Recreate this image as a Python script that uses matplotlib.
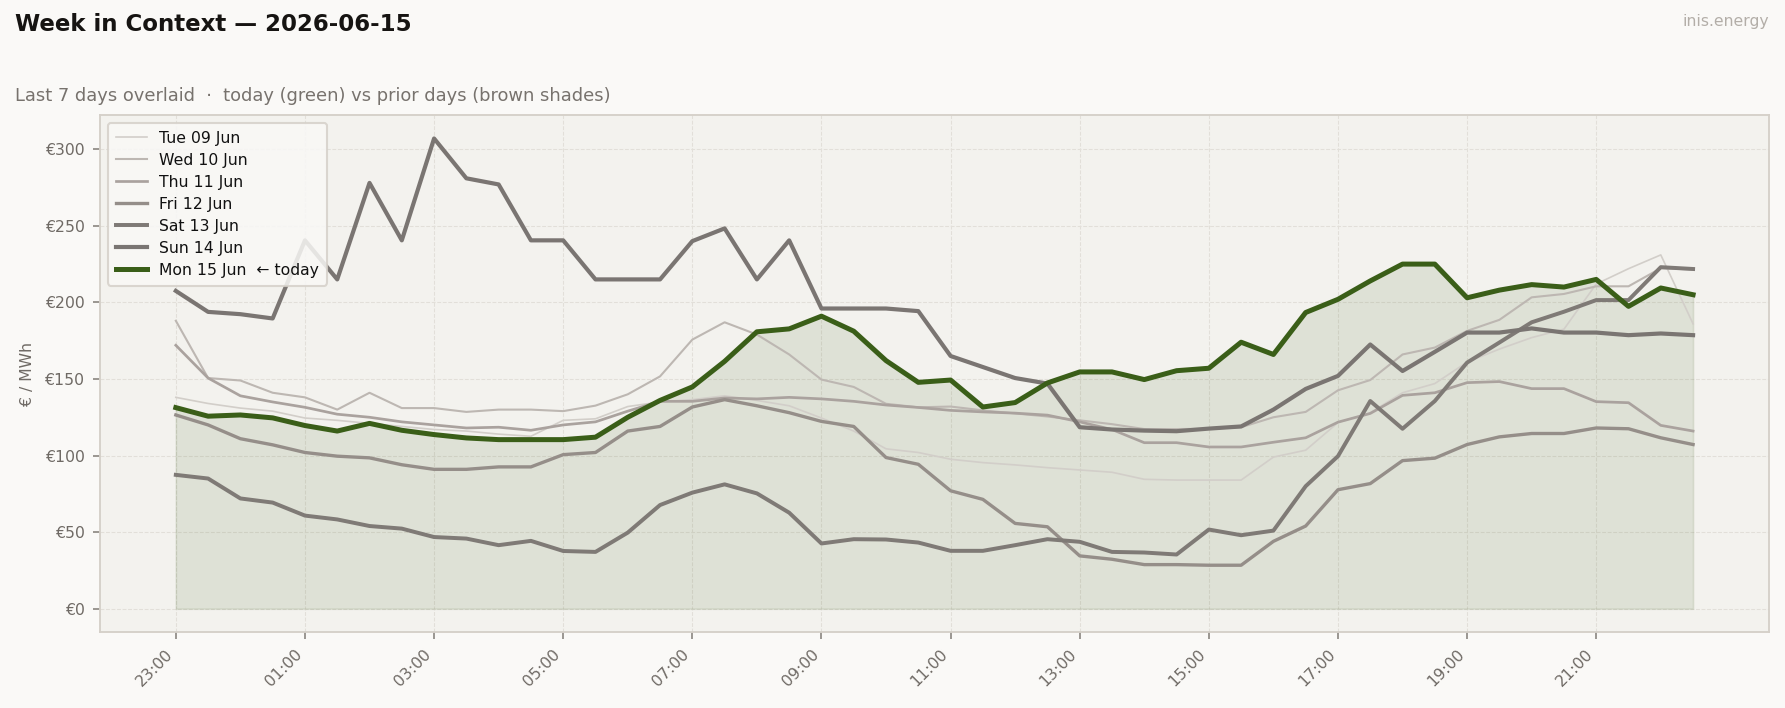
import numpy as np
import matplotlib
matplotlib.use("Agg")
import matplotlib.pyplot as plt
from matplotlib.ticker import FuncFormatter

# ---------------- data ----------------
day_labels = ["Tue 09 Jun", "Wed 10 Jun", "Thu 11 Jun", "Fri 12 Jun",
              "Sat 13 Jun", "Sun 14 Jun"]
today_label = "Mon 15 Jun  \u2190 today"

tue = [138, 134, 131, 129, 124.5, 123, 121, 119, 117, 116, 114, 112.6,
       123, 124, 132, 135, 136.5, 139, 136, 132.5, 124.5, 116, 104.4, 102,
       97.6, 95.4, 93.9, 92.1, 90.6, 89.1, 84.5, 84, 84, 84, 99, 103.5,
       121.5, 128, 141, 147, 161, 169.5, 177, 182.5, 212, 222, 231, 186]
wed = [188, 150.6, 149, 141, 138, 130, 141, 131, 131, 128.5, 130, 130,
       129, 132.6, 140, 151.7, 175.7, 187, 179, 166, 149.6, 144.8, 133.8, 131.5,
       132, 129.5, 127.5, 125.5, 123, 120.5, 117.3, 117.3, 117.5, 118.5, 125, 128.5,
       142.6, 149.3, 166, 170.5, 181.4, 188.6, 203.3, 205.5, 210.5, 210.5, 222.3, 221.5]
thu = [172, 150.6, 139, 135, 131.5, 127, 125, 122, 120, 118, 118.5, 116.5,
       120, 122, 129, 135.4, 135.4, 137.6, 137, 138, 137, 135.4, 133, 131.4,
       129.5, 128.5, 127.7, 126.4, 122, 117, 108.4, 108.4, 105.6, 105.6, 108.7, 111.6,
       121.8, 127.5, 139.3, 141, 147.6, 148.3, 143.7, 143.7, 135.2, 134.5, 119.7, 116]
fri = [126.5, 120, 111, 107, 102, 99.6, 98.5, 94, 91, 91, 92.6, 92.6,
       100.6, 102, 116, 119, 131.7, 136.5, 132.5, 128, 122.3, 119, 98.7, 94.3,
       77, 71.4, 55.7, 53.5, 34.5, 32.3, 28.8, 28.8, 28.4, 28.4, 44, 54,
       77.7, 81.7, 96.7, 98.3, 107.2, 112.2, 114.4, 114.4, 118, 117.5, 111.6, 107.2]
sat = [87.4, 85, 72, 69.3, 60.8, 58.3, 54, 52.3, 46.8, 45.8, 41.5, 44.3,
       37.7, 37.1, 49.7, 67.7, 75.8, 81.2, 75.3, 62.7, 42.6, 45.4, 45.2, 43.2,
       37.8, 37.8, 41.5, 45.4, 43.7, 37.1, 36.7, 35.4, 51.7, 48, 51, 80,
       99.6, 135.6, 117.5, 135.6, 160.7, 173.8, 187, 193.9, 201.5, 201.5, 223, 221.8]
sun = [207.5, 193.8, 192.3, 189.5, 240.5, 215, 278, 240.5, 307, 281, 277, 240.5,
       240.5, 215, 215, 215, 240, 248.3, 215, 240.5, 196, 196, 196, 194.3,
       165, 157.8, 150.6, 147, 118.5, 117, 116.3, 115.9, 117.6, 119, 130, 143.5,
       152, 172.5, 155.2, 167.7, 180.3, 180.3, 183, 180.3, 180.3, 178.6, 179.7, 178.6]
mon = [131.3, 125.7, 126.5, 124.6, 119.6, 116, 121, 116.5, 113.7, 111.5, 110.4, 110.4,
       110.4, 112, 125, 136, 144.8, 161.5, 180.8, 182.7, 191, 181.2, 162, 147.8,
       149.3, 131.7, 134.6, 147.4, 154.6, 154.6, 149.6, 155.4, 157, 174, 166, 193.4,
       202, 214, 225, 225, 203, 208, 211.6, 210, 215, 197.4, 209.4, 205]

tick_labels = ["23:00", "01:00", "03:00", "05:00", "07:00", "09:00",
               "11:00", "13:00", "15:00", "17:00", "19:00", "21:00"]

# ---------------- style ----------------
fig_bg = "#faf9f7"
ax_bg = "#f3f2ee"
spine_c = "#d5d0c9"
text_c = "#6f6a65"
green = "#3a5e18"
prior_colors = ["#d2cec9", "#bdb7b2", "#aaa29e", "#958e89", "#7f7a76", "#7a7572"]
prior_widths = [0.8, 1.0, 1.3, 1.6, 1.9, 2.0]

plt.rcParams['font.family'] = ['DejaVu Sans']

fig = plt.figure(figsize=(11.9, 4.72), dpi=150, facecolor=fig_bg)
ax = fig.add_axes([0.056, 0.107, 0.935, 0.7306])
ax.set_facecolor(ax_bg)

series = [tue, wed, thu, fri, sat, sun]
x = np.arange(len(mon))

ax.fill_between(x, 0, mon, color=green, alpha=0.11, zorder=1, linewidth=0.8)
for s, lab, c, w in zip(series, day_labels, prior_colors, prior_widths):
    ax.plot(x, s, color=c, lw=w, label=lab, zorder=2)
ax.plot(x, mon, color=green, lw=2.4, label=today_label, zorder=3)

ax.set_xticks(np.arange(0, len(mon), 4))
ax.set_xticklabels(tick_labels, rotation=45, ha="right", rotation_mode="default")
ax.yaxis.set_major_formatter(FuncFormatter(lambda v, p: f"\u20ac{v:.0f}"))
ax.set_yticks(np.arange(0, 301, 50))

ax.tick_params(axis="both", colors=text_c, labelsize=7.5, length=3.5, width=0.8)
ax.tick_params(axis="both", color="#8a8580")
ax.grid(True, color="#e2dfd9", linestyle="--", linewidth=0.5, zorder=0)
ax.set_axisbelow(True)
for sp in ax.spines.values():
    sp.set_color(spine_c)
    sp.set_linewidth(0.9)

ax.set_ylabel("\u20ac / MWh", color=text_c, fontsize=7.5, labelpad=5)

leg = ax.legend(loc="upper left", fontsize=7.5, frameon=True, framealpha=0.85,
                facecolor="#f9f8f6", edgecolor="#d5d0c9", fancybox=True,
                borderpad=0.5, labelspacing=0.45, handlelength=2.0)
for t in leg.get_texts():
    t.set_color("#111111")

fig.text(0.0083, 0.965, "Week in Context \u2014 2026-06-15", fontsize=11,
         fontweight="bold", color="#161412", va="center", ha="left")
fig.text(0.0083, 0.865,
         "Last 7 days overlaid  \u00b7  today (green) vs prior days (brown shades)",
         fontsize=8.6, color="#77726d", va="center", ha="left")
fig.text(0.991, 0.9695, "inis.energy", fontsize=7.5, color="#b3aea8",
         va="center", ha="right")

fig.savefig("out.png", dpi=150, facecolor=fig_bg)
